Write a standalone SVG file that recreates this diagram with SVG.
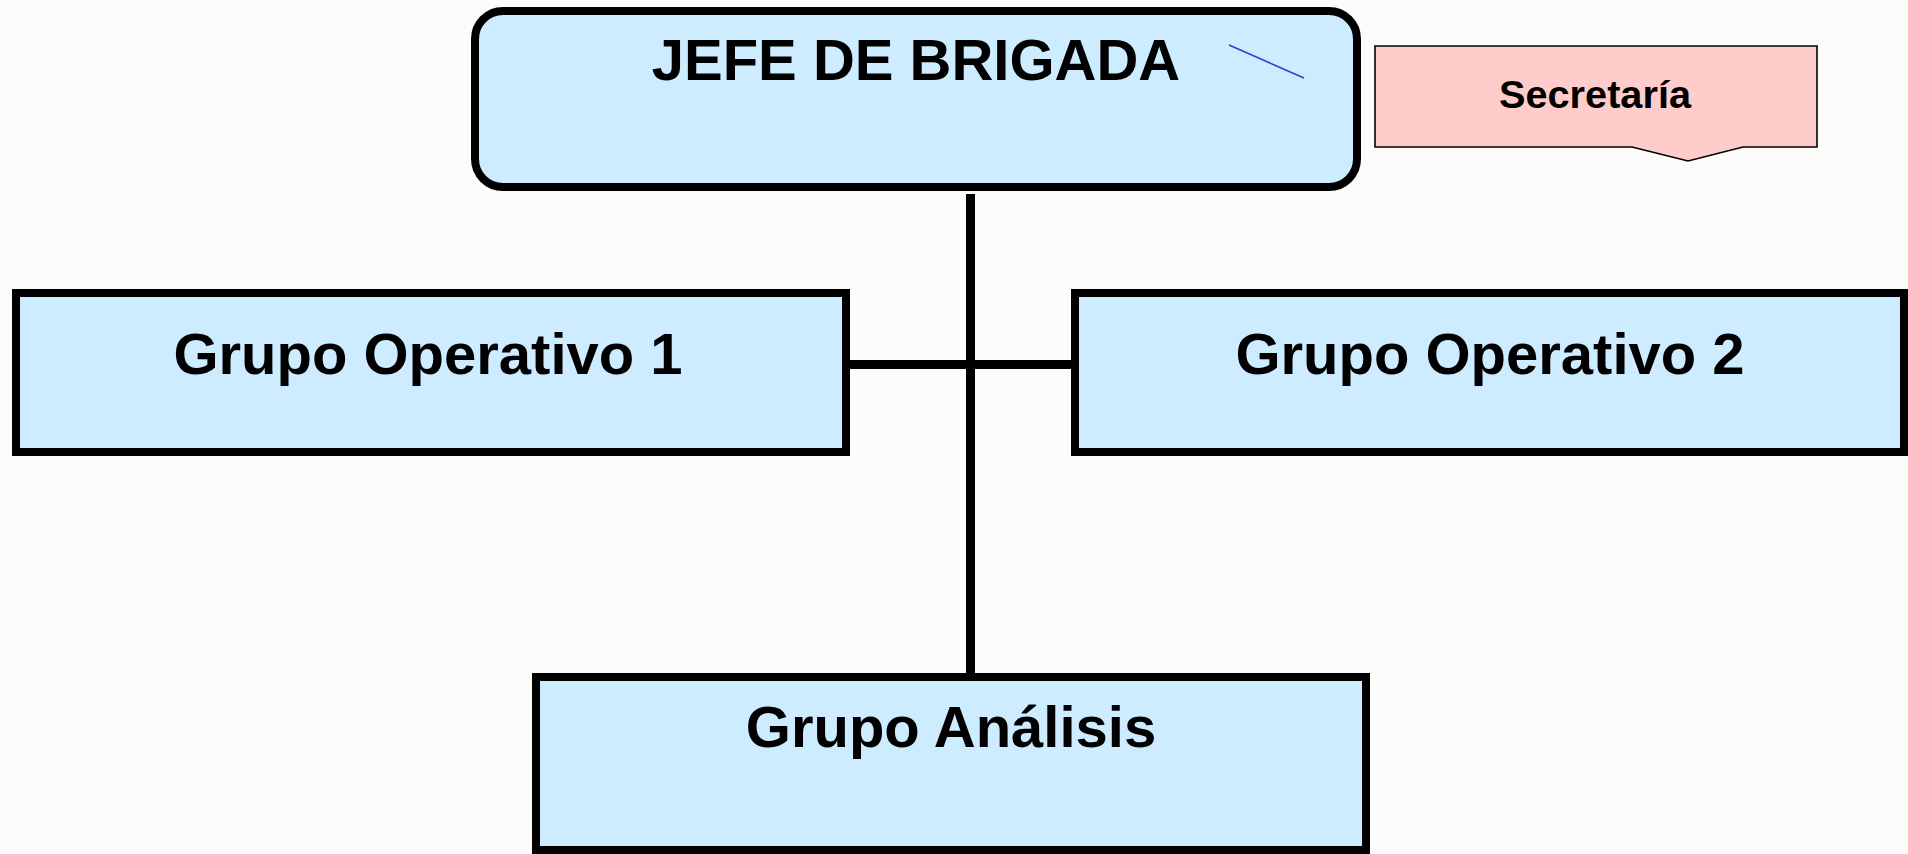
<svg xmlns="http://www.w3.org/2000/svg" width="1908" height="854" viewBox="0 0 1908 854">
<style>
.box{fill:#cdecff;stroke:#000;stroke-width:8}
.lbl{font-family:"Liberation Sans",Arial,sans-serif;font-weight:bold;font-size:58px;fill:#000;text-anchor:middle}
.conn{stroke:#000;stroke-width:9;fill:none}
</style>
<rect x="0" y="0" width="1908" height="854" fill="#fcfdfb"/>
<g id="connectors">
<line class="conn" x1="970.5" y1="194" x2="970.5" y2="675"/>
<line class="conn" x1="848" y1="364.5" x2="1073" y2="364.5"/>
</g>
<g id="jefe">
<rect class="box" x="475" y="11" width="882" height="176" rx="28" ry="28"/>
<text class="lbl" x="916" y="80">JEFE DE BRIGADA</text>
<line x1="1229" y1="45" x2="1304" y2="78" stroke="#3a3ad0" stroke-width="1.6"/>
</g>
<g id="secretaria">
<path d="M1375,46 H1817 V147 H1743 L1688,161 L1632,147 H1375 Z" fill="#ffcccc" stroke="#000" stroke-width="1.6"/>
<text x="1595" y="108" font-family="'Liberation Sans',Arial,sans-serif" font-weight="bold" font-size="38" text-anchor="middle" textLength="192" lengthAdjust="spacingAndGlyphs">Secretaría</text>
</g>
<g id="grupo1">
<rect class="box" x="16" y="293" width="830" height="159"/>
<text class="lbl" x="428" y="374">Grupo Operativo 1</text>
</g>
<g id="grupo2">
<rect class="box" x="1075" y="293" width="829" height="159"/>
<text class="lbl" x="1490" y="374">Grupo Operativo 2</text>
</g>
<g id="analisis">
<rect class="box" x="536" y="677" width="830" height="173"/>
<text class="lbl" x="951" y="747">Grupo Análisis</text>
</g>
</svg>
